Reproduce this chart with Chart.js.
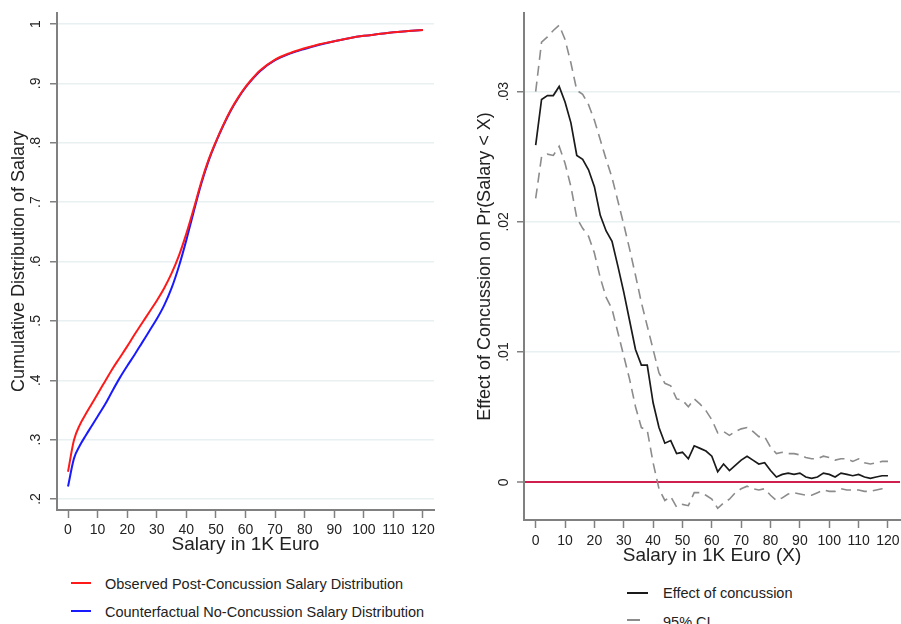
<!DOCTYPE html>
<html>
<head>
<meta charset="utf-8">
<script src="https://cdn.jsdelivr.net/npm/chart.js@4.4.1/dist/chart.umd.min.js"></script>
<style>
  body { margin: 0; background: #fff; width: 901px; height: 624px; overflow: hidden; position: relative;
         font-family: "Liberation Sans", Arial, sans-serif; }
  canvas { position: absolute; top: 0; }
  #leftChart { left: 0; }
  #rightChart { left: 455px; }
  .key { position: absolute; font-size: 14.5px; line-height: 16px; color: #222; white-space: nowrap; }
  .swatch { position: absolute; height: 0; }
</style>
</head>
<body>
<canvas id="leftChart" width="450" height="570"></canvas>
<canvas id="rightChart" width="446" height="570"></canvas>

<div class="swatch" style="left:71px; top:582px; width:20px; border-top:2px solid #ff1a1a;"></div>
<div class="key" style="left:105px; top:576px;">Observed Post-Concussion Salary Distribution</div>
<div class="swatch" style="left:71px; top:610px; width:20px; border-top:2px solid #1a1aff;"></div>
<div class="key" style="left:105px; top:604px;">Counterfactual No-Concussion Salary Distribution</div>

<div class="swatch" style="left:627px; top:592px; width:21px; border-top:2px solid #1a1a1a;"></div>
<div class="key" style="left:663px; top:585px;">Effect of concussion</div>
<div class="swatch" style="left:627px; top:619px; width:13px; border-top:2px solid #8c8c8c;"></div>
<div class="key" style="left:663px; top:614px;">95% CI</div>

<script>
// Left panel: cumulative salary distributions
const salaryX = [0, 2, 4, 6, 8, 10, 12.5, 15, 17.5, 20, 22.5, 25, 27.5, 30, 32.5, 35, 37.5, 40, 42.5, 45, 47.5,
                 50, 52.5, 55, 57.5, 60, 62.5, 65, 70, 75, 80, 85, 90, 95, 100, 105, 110, 115, 120];
const observedCdf = [0.246, 0.299, 0.325, 0.343, 0.360, 0.377, 0.398, 0.419, 0.438, 0.457, 0.477, 0.496, 0.515,
                     0.534, 0.555, 0.580, 0.610, 0.647, 0.689, 0.733, 0.771, 0.802, 0.830, 0.855, 0.876, 0.894,
                     0.909, 0.922, 0.940, 0.951, 0.959, 0.966, 0.971, 0.976, 0.980, 0.983, 0.986, 0.988, 0.990];
const counterfactualCdf = [0.221, 0.268, 0.290, 0.307, 0.323, 0.339, 0.359, 0.382, 0.404, 0.424, 0.443, 0.463, 0.483,
                           0.503, 0.526, 0.555, 0.592, 0.636, 0.684, 0.730, 0.769, 0.801, 0.829, 0.854, 0.875, 0.893,
                           0.908, 0.921, 0.939, 0.950, 0.958, 0.965, 0.971, 0.976, 0.980, 0.983, 0.986, 0.988, 0.990];
const leftXTicks = [0, 10, 20, 30, 40, 50, 60, 70, 80, 90, 100, 110, 120];
const leftYTicks = [0.2, 0.3, 0.4, 0.5, 0.6, 0.7, 0.8, 0.9, 1];
const leftYLabels = [".2", ".3", ".4", ".5", ".6", ".7", ".8", ".9", "1"];

// Right panel: effect on Pr(Salary < X), every 2K
const effectX = [0, 2, 4, 6, 8, 10, 12, 14, 16, 18, 20, 22, 24, 26, 28, 30, 32, 34, 36, 38, 40,
                 42, 44, 46, 48, 50, 52, 54, 56, 58, 60, 62, 64, 66, 68, 70, 72, 74, 76, 78, 80,
                 82, 84, 86, 88, 90, 92, 94, 96, 98, 100, 102, 104, 106, 108, 110, 112, 114, 116, 118, 120];
const effect = [0.0259, 0.0294, 0.0297, 0.0297, 0.0304, 0.0292, 0.0276, 0.0251, 0.0248, 0.0240, 0.0227,
                0.0205, 0.0193, 0.0185, 0.0166, 0.0146, 0.0124, 0.0102, 0.0090, 0.0090, 0.0061,
                0.0042, 0.0030, 0.0032, 0.0022, 0.0023, 0.0018, 0.0028, 0.0026, 0.0024, 0.0020,
                0.0008, 0.0014, 0.0009, 0.0013, 0.0017, 0.0020, 0.0017, 0.0014, 0.0015, 0.0009,
                0.0004, 0.0006, 0.0007, 0.0006, 0.0007, 0.0004, 0.0003, 0.0004, 0.0007, 0.0006,
                0.0004, 0.0007, 0.0006, 0.0005, 0.0006, 0.0004, 0.0003, 0.0004, 0.0005, 0.0005];
const ciUpper = [0.0300, 0.0338, 0.0342, 0.0347, 0.0351, 0.0340, 0.0322, 0.0301, 0.0298, 0.0290, 0.0278,
                 0.0263, 0.0248, 0.0234, 0.0216, 0.0198, 0.0179, 0.0159, 0.0138, 0.0120, 0.0102,
                 0.0084, 0.0076, 0.0074, 0.0064, 0.0063, 0.0058, 0.0064, 0.0060, 0.0055, 0.0048,
                 0.0038, 0.0039, 0.0036, 0.0039, 0.0041, 0.0042, 0.0039, 0.0035, 0.0035, 0.0027,
                 0.0022, 0.0023, 0.0022, 0.0022, 0.0021, 0.0019, 0.0018, 0.0018, 0.0020, 0.0019,
                 0.0017, 0.0018, 0.0018, 0.0016, 0.0018, 0.0015, 0.0014, 0.0015, 0.0016, 0.0016];
const ciLower = [0.0218, 0.0250, 0.0252, 0.0251, 0.0258, 0.0245, 0.0227, 0.0203, 0.0195, 0.0189, 0.0176,
                 0.0157, 0.0142, 0.0133, 0.0115, 0.0097, 0.0079, 0.0058, 0.0042, 0.0040, 0.0015,
                 -0.0005, -0.0014, -0.0011, -0.0019, -0.0017, -0.0018, -0.0008, -0.0008, -0.0010, -0.0013,
                 -0.0020, -0.0016, -0.0013, -0.0008, -0.0005, -0.0003, -0.0005, -0.0006, -0.0005, -0.0010,
                 -0.0014, -0.0012, -0.0009, -0.0008, -0.0009, -0.0010, -0.0010, -0.0008, -0.0006, -0.0007,
                 -0.0007, -0.0005, -0.0006, -0.0006, -0.0006, -0.0007, -0.0007, -0.0006, -0.0005, -0.0005];
const rightXTicks = [0, 10, 20, 30, 40, 50, 60, 70, 80, 90, 100, 110, 120];
const rightYTicks = [0, 0.01, 0.02, 0.03];
const rightYLabels = ["0", ".01", ".02", ".03"];

const fontFamily = '"Liberation Sans", Arial, sans-serif';
const textColor = "#222";
const axisColor = "#808080";
const gridColor = "#e8f0f2";
const zeroColor = "#cf1f4e";

function toPoints(xs, ys) {
  return xs.map((x, i) => ({ x: x, y: ys[i] }));
}

// Stata-like axis pair; sizes fixed so the plot area lands where the original has it
function stataScales(o) {
  return {
    x: {
      type: "linear", min: o.xMin, max: o.xMax,
      afterBuildTicks: s => { s.ticks = o.xTicks.map(v => ({ value: v })); },
      afterFit: s => { s.height = o.xHeight; s.paddingLeft = 0; s.paddingRight = 0; },
      grid: { drawOnChartArea: false, drawTicks: true, tickLength: 8, tickColor: axisColor, tickWidth: 1.5 },
      border: { color: axisColor, width: 2 },
      ticks: { font: { family: fontFamily, size: 14 }, color: textColor, padding: o.xTickPad,
               maxRotation: 0, autoSkip: false, callback: v => String(v) },
      title: { display: true, text: o.xTitle, color: textColor, font: { family: fontFamily, size: 19 },
               padding: { top: 0, bottom: o.xTitlePad } }
    },
    y: {
      type: "linear", min: o.yMin, max: o.yMax,
      afterBuildTicks: s => { s.ticks = o.yTicks.map(v => ({ value: v })); },
      afterFit: s => { s.width = o.yWidth; s.paddingTop = 0; s.paddingBottom = 0; },
      grid: {
        color: ctx => (o.zeroLine && ctx.tick && ctx.tick.value === 0) ? zeroColor : gridColor,
        lineWidth: ctx => (o.zeroLine && ctx.tick && ctx.tick.value === 0) ? 2 : 1.5,
        drawTicks: true, tickLength: 7, tickColor: axisColor, tickWidth: 1.5
      },
      border: { color: axisColor, width: 2 },
      ticks: { font: { family: fontFamily, size: 14 }, color: textColor, padding: o.yTickPad,
               minRotation: 90, maxRotation: 90, crossAlign: "center",
               callback: (v, i) => o.yLabels[i] },
      title: { display: true, text: o.yTitle, color: textColor, font: { family: fontFamily, size: 18 },
               padding: { top: o.yTitlePad, bottom: 0 } }
    }
  };
}

const baseOptions = {
  responsive: false,
  devicePixelRatio: 1,
  animation: false,
  plugins: { legend: { display: false }, tooltip: { enabled: false } },
  elements: { point: { radius: 0 } }
};

let cdfChart = new Chart(document.getElementById("leftChart"), {
  type: "line",
  data: {
    datasets: [
      { label: "Observed Post-Concussion Salary Distribution", data: toPoints(salaryX, observedCdf),
        borderColor: "#ff1a1a", borderWidth: 2, cubicInterpolationMode: "monotone" },
      { label: "Counterfactual No-Concussion Salary Distribution", data: toPoints(salaryX, counterfactualCdf),
        borderColor: "#1a1aff", borderWidth: 2, cubicInterpolationMode: "monotone" }
    ]
  },
  options: Object.assign({}, baseOptions, {
    layout: { padding: { top: 13, right: 16, bottom: 0, left: 0 } },
    scales: stataScales({
      xMin: -3.72, xMax: 123.72, xTicks: leftXTicks, xHeight: 60, xTickPad: 3.8,
      xTitle: "Salary in 1K Euro", xTitlePad: 13.6,
      yMin: 0.1815, yMax: 1.0185, yTicks: leftYTicks, yLabels: leftYLabels, yWidth: 57, yTickPad: 7.8,
      yTitle: "Cumulative Distribution of Salary", yTitlePad: 8.2, zeroLine: false
    })
  })
});

let effectChart = new Chart(document.getElementById("rightChart"), {
  type: "line",
  data: {
    datasets: [
      { label: "95% CI upper", data: toPoints(effectX, ciUpper),
        borderColor: "#8c8c8c", borderWidth: 1.6, borderDash: [10, 6], tension: 0 },
      { label: "95% CI lower", data: toPoints(effectX, ciLower),
        borderColor: "#8c8c8c", borderWidth: 1.6, borderDash: [10, 6], tension: 0 },
      { label: "Effect of concussion", data: toPoints(effectX, effect),
        borderColor: "#1a1a1a", borderWidth: 1.7, tension: 0 }
    ]
  },
  options: Object.assign({}, baseOptions, {
    layout: { padding: { top: 13, right: 1, bottom: 0, left: 0 } },
    scales: stataScales({
      xMin: -3.98, xMax: 124.1, xTicks: rightXTicks, xHeight: 50, xTickPad: 4.4,
      xTitle: "Salary in 1K Euro (X)", xTitlePad: 2.9,
      yMin: -0.0029, yMax: 0.03604, yTicks: rightYTicks, yLabels: rightYLabels, yWidth: 69, yTickPad: 3.6,
      yTitle: "Effect of Concussion on Pr(Salary < X)", yTitlePad: 19.2, zeroLine: true
    })
  })
});
</script>
</body>
</html>
